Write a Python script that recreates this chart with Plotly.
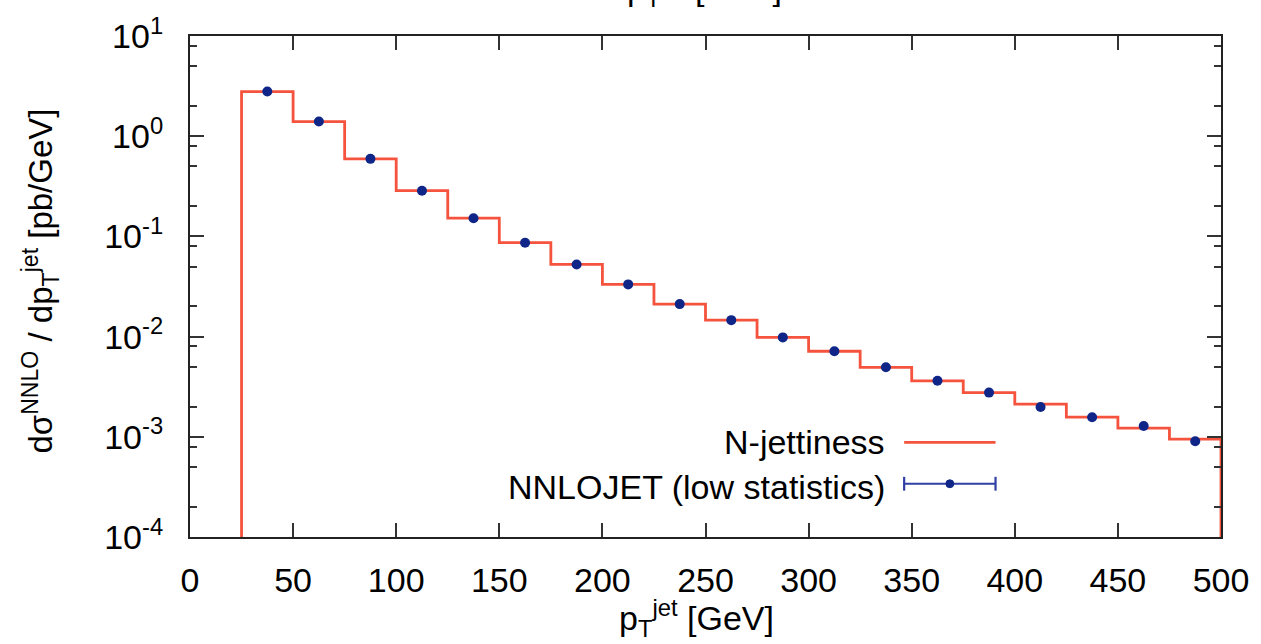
import plotly.graph_objects as go

# ---------------- data ----------------
bin_edges = [25, 50, 75, 100, 125, 150, 175, 200, 225, 250, 275, 300,
             325, 350, 375, 400, 425, 450, 475, 500]
njettiness = [2.79, 1.40, 0.594, 0.286, 0.152, 0.0865, 0.0525, 0.0332,
              0.0211, 0.0146, 0.00982, 0.00714, 0.00494, 0.00362,
              0.00276, 0.00212, 0.00157, 0.00122, 0.00095]
nnlojet = [2.79, 1.40, 0.594, 0.286, 0.152, 0.0865, 0.0525, 0.0332,
           0.0211, 0.0146, 0.00982, 0.00714, 0.00494, 0.00362,
           0.00276, 0.00198, 0.00157, 0.00128, 0.000903]
x_ticks = [0, 50, 100, 150, 200, 250, 300, 350, 400, 450, 500]
y_ticks = [1e-4, 1e-3, 1e-2, 1e-1, 1, 10]
y_ticktext = ["10<sup>-4</sup>", "10<sup>-3</sup>", "10<sup>-2</sup>",
              "10<sup>-1</sup>", "10<sup>0</sup>", "10<sup>1</sup>"]
y_minor = [m * d for d in [1e-4, 1e-3, 1e-2, 1e-1, 1] for m in (2, 5, 8)]
floor_value = 1e-6  # histogram drops to zero outside the range

RED = "#f5533d"
NAVY = "#0f2688"
LBLUE = "#2f3fa3"
FONT = "Liberation Sans, Arial, Helvetica, sans-serif"

# step outline of the histogram
lo = bin_edges[:-1]
xs = [lo[0]] + lo + [bin_edges[-1], bin_edges[-1]]
ys = [floor_value] + njettiness + [njettiness[-1], floor_value]
centers = [(a + b) / 2 for a, b in zip(bin_edges[:-1], bin_edges[1:])]

fig = go.Figure()
fig.add_trace(go.Scatter(x=xs, y=ys, mode="lines", line_shape="hv",
                         line=dict(color=RED, width=2.8),
                         name="N-jettiness"))
fig.add_trace(go.Scatter(x=centers, y=nnlojet, mode="markers",
                         marker=dict(color=NAVY, size=10, symbol="circle"),
                         name="NNLOJET (low statistics)"))

W, H = 1261, 644
ml, mr, mt, mb = 190, 33, 29, 107
pw, ph = W - ml - mr, H - mt - mb


def px(x):
    return (x - ml) / pw


def py(y):
    return (H - mb - y) / ph


axis_common = dict(showline=True, linecolor="#222", linewidth=2,
                   mirror="ticks", ticks="inside", ticklen=14, tickwidth=1.6,
                   tickcolor="#333", showgrid=False, zeroline=False,
                   tickfont=dict(family=FONT, size=34, color="black"))

fig.update_layout(
    width=W, height=H,
    margin=dict(l=ml, r=mr, t=mt, b=mb),
    plot_bgcolor="white", paper_bgcolor="white",
    showlegend=False,
    font=dict(family=FONT, size=34, color="black"),
    xaxis=dict(range=[0, 500], tickmode="array", tickvals=x_ticks,
               ticklabelstandoff=12, **axis_common),
    yaxis=dict(type="log", range=[-4, 1], tickmode="array",
               tickvals=y_ticks, ticktext=y_ticktext,
               ticklabelstandoff=18,
               minor=dict(tickmode="array", tickvals=y_minor, ticks="inside",
                          ticklen=7, tickwidth=1.6, tickcolor="#333",
                          showgrid=False),
               **axis_common),
)

# axis titles
fig.add_annotation(text="dσ<sup>NNLO</sup> / dp<sub>T</sub><sup>jet</sup> [pb/GeV]",
                   xref="paper", yref="paper", x=px(40), y=py(278),
                   xanchor="center", yanchor="middle", textangle=-90,
                   showarrow=False, font=dict(family=FONT, size=33))
fig.add_annotation(text="p<sub>T</sub><sup>jet</sup> [GeV]",
                   xref="paper", yref="paper", x=px(700), y=py(619),
                   xanchor="center", yanchor="middle",
                   showarrow=False, font=dict(family=FONT, size=34))
# cut-off title of the panel above
fig.add_annotation(text="p<sub>T</sub><sup>jet</sup> [GeV]",
                   xref="paper", yref="paper", x=px(708), y=py(7),
                   xanchor="center", yanchor="bottom",
                   showarrow=False, font=dict(family=FONT, size=34))

# legend (text on the left, sample on the right)
fig.add_annotation(text="N-jettiness", xref="paper", yref="paper",
                   x=px(892), y=py(441), xanchor="right", yanchor="middle",
                   showarrow=False, font=dict(family=FONT, size=34))
fig.add_annotation(text="NNLOJET (low statistics)", xref="paper", yref="paper",
                   x=px(892), y=py(486), xanchor="right", yanchor="middle",
                   showarrow=False, font=dict(family=FONT, size=34))
fig.add_shape(type="line", xref="paper", yref="paper",
              x0=px(909), x1=px(1001), y0=py(441), y1=py(441),
              line=dict(color=RED, width=2.8))
fig.add_shape(type="line", xref="paper", yref="paper",
              x0=px(909), x1=px(1001), y0=py(483), y1=py(483),
              line=dict(color=LBLUE, width=2.2))
for xc in (909, 1001):
    fig.add_shape(type="line", xref="paper", yref="paper",
                  x0=px(xc), x1=px(xc), y0=py(476), y1=py(490),
                  line=dict(color=LBLUE, width=2.2))
fig.add_shape(type="circle", xref="paper", yref="paper",
              x0=px(951), x1=px(959), y0=py(479), y1=py(487),
              fillcolor=NAVY, line=dict(color=NAVY, width=1))

fig.write_html("out.html")
